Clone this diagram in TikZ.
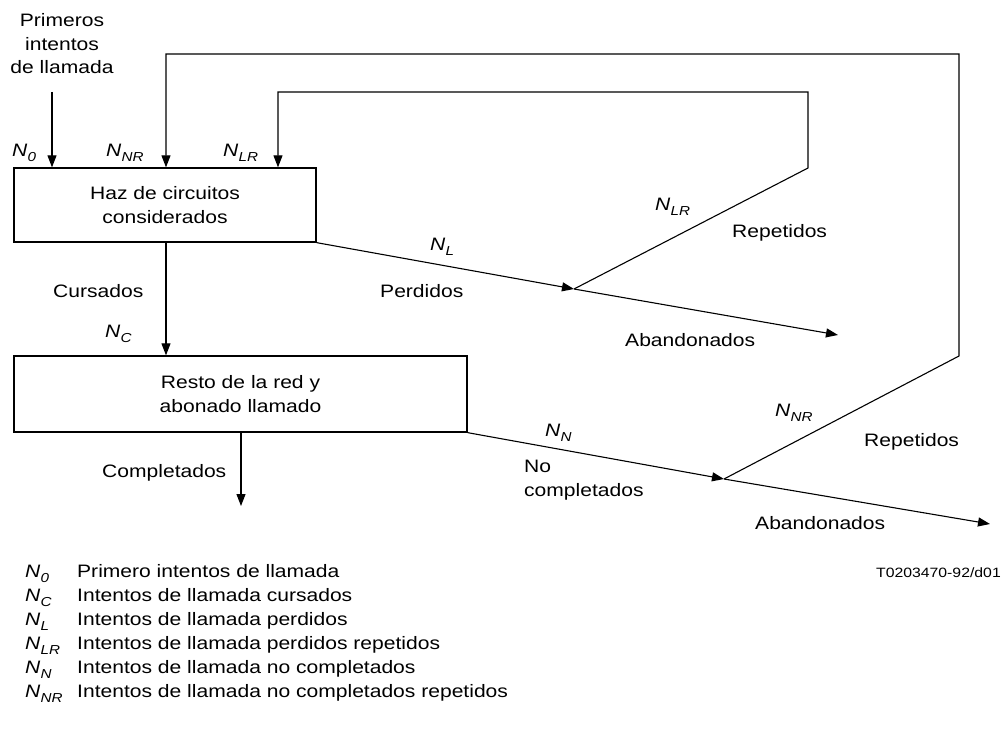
\documentclass[tikz,border=0pt]{standalone}
\usepackage{fontspec}
\setmainfont{Liberation Sans}[FakeStretch=1.17]
\usetikzlibrary{arrows.meta}
\newcommand{\Nsym}[1]{\textit{N}\kern0.3pt\raisebox{-5pt}{\fontsize{13}{13}\selectfont\textit{#1}}}
\begin{document}
\begin{tikzpicture}[x=1pt,y=-1pt,
  every node/.style={font=\fontsize{18}{23.5}\selectfont, inner sep=0pt},
  box/.style={draw, line width=1.3pt, align=center},
  flow/.style={line width=1.1pt, -{Triangle[length=12pt,width=9pt]}},
  lbl/.style={anchor=base west},
  leg/.style={anchor=base west},
  code/.style={anchor=base east, font=\fontsize{13.5}{16}\selectfont}]
\useasboundingbox (0,0) rectangle (1004,738);

% boxes
\node[box, minimum width=302pt, minimum height=74pt] (haz) at (165,205) {Haz de circuitos\\considerados};
\node[box, minimum width=453pt, minimum height=76pt] (resto) at (240.5,394) {Resto de la red y\\abonado llamado};

% top input text
\node[align=center, anchor=base] (prim) at (62,74) {Primeros\\intentos\\de llamada};

% coordinates
\coordinate (n0top) at (52,92);
\coordinate (jL) at (574,289);
\coordinate (endL) at (838,335);
\coordinate (lrA) at (808,168);
\coordinate (lrB) at (808,92);
\coordinate (lrC) at (278,92);
\coordinate (jN) at (724,479);
\coordinate (endN) at (990,524);
\coordinate (nrA) at (959,356);
\coordinate (nrB) at (959,54);
\coordinate (nrC) at (166,54);
\coordinate (cmpEnd) at (241,506);

% connectors
\draw[flow] (n0top) -- (haz.north -| n0top);
\draw[flow] (jN) -- (nrA) -- (nrB) -- (nrC) -- (haz.north -| nrC);
\draw[flow] (jL) -- (lrA) -- (lrB) -- (lrC) -- (haz.north -| lrC);
\draw[flow] (haz.south east) -- (jL);
\draw[flow] (jL) -- (endL);
\draw[flow] (haz.south -| nrC) -- (resto.north -| nrC);
\draw[flow] (resto.south -| cmpEnd) -- (cmpEnd);
\draw[flow] (resto.south east) -- (jN);
\draw[flow] (jN) -- (endN);

% flow labels
\node[lbl] (l0) at (12,157) {\Nsym{0}};
\node[lbl] (lnr) at (106,157) {\Nsym{NR}};
\node[lbl] (llr) at (223,157) {\Nsym{LR}};
\node[lbl] (lL) at (430,251) {\Nsym{L}};
\node[lbl] (lperd) at (380,297) {Perdidos};
\node[lbl] (llr2) at (655,211) {\Nsym{LR}};
\node[lbl] (lrep1) at (732,237) {Repetidos};
\node[lbl] (laban1) at (625,346) {Abandonados};
\node[lbl] (lcurs) at (53,297) {Cursados};
\node[lbl] (lC) at (105,337) {\Nsym{C}};
\node[lbl] (lcomp) at (102,477) {Completados};
\node[lbl] (lN) at (545,436) {\Nsym{N}};
\node[align=left, anchor=base west] (lnoc) at (524,496) {No\\completados};
\node[lbl] (lnr2) at (775,416) {\Nsym{NR}};
\node[lbl] (lrep2) at (864,446) {Repetidos};
\node[lbl] (laban2) at (755,529) {Abandonados};

% legend
\node[leg] (s1) at (25,577) {\Nsym{0}};
\node[leg] (t1) at (77,577) {Primero intentos de llamada};
\node[leg] (s2) at (25,601) {\Nsym{C}};
\node[leg] (t2) at (77,601) {Intentos de llamada cursados};
\node[leg] (s3) at (25,625) {\Nsym{L}};
\node[leg] (t3) at (77,625) {Intentos de llamada perdidos};
\node[leg] (s4) at (25,649) {\Nsym{LR}};
\node[leg] (t4) at (77,649) {Intentos de llamada perdidos repetidos};
\node[leg] (s5) at (25,673) {\Nsym{N}};
\node[leg] (t5) at (77,673) {Intentos de llamada no completados};
\node[leg] (s6) at (25,697) {\Nsym{NR}};
\node[leg] (t6) at (77,697) {Intentos de llamada no completados repetidos};

\node[code] (ref) at (1001,577) {T0203470-92/d01};
\end{tikzpicture}
\end{document}
